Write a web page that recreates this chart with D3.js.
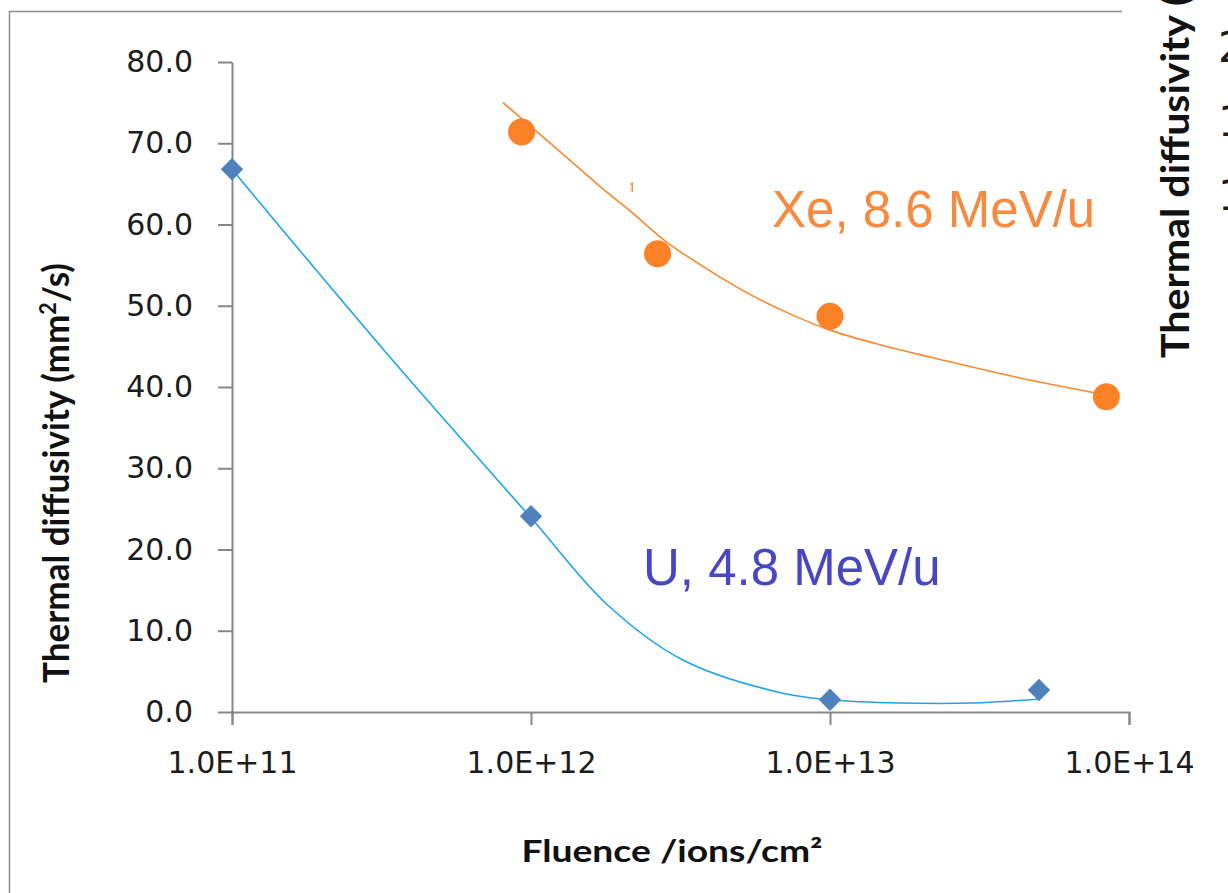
<!DOCTYPE html>
<html>
<head>
<meta charset="utf-8">
<script src="https://cdn.jsdelivr.net/npm/d3@7"></script>
<style>
  html, body { margin: 0; padding: 0; background: #fff; overflow: hidden; }
  svg { display: block; }
</style>
</head>
<body>
<svg id="chart" width="1228" height="893"></svg>
<script>
// Measured points: fluence (ions/cm²) and thermal diffusivity (mm²/s)
const uFluence  = [1e11, 1e12, 1e13, 5e13];
const uValues   = [66.8, 24.1, 1.5, 2.7];
const xeFluence = [9.3e11, 2.65e12, 1.0e13, 8.4e13];
const xeValues  = [71.4, 56.4, 48.7, 38.8];

// Smoothed guide curves drawn through each series
const uCurveFluence  = [1e11, 3.3e11, 1.0e12, 1.8e12, 3.22e12, 6.96e12, 1.0e13, 1.71e13, 3.01e13, 5.0e13];
const uCurveValues   = [66.8, 44.1, 23.9, 13.2, 6.4, 2.3, 1.5, 1.1, 1.1, 1.6];
const xeCurveFluence = [8.06e11, 1.22e12, 1.70e12, 2.14e12, 2.85e12, 3.97e12, 5.4e12, 7.35e12, 1.0e13, 1.47e13, 2.21e13, 4.21e13, 8.44e13];
const xeCurveValues  = [75.0, 69.3, 64.7, 61.7, 57.8, 54.3, 51.4, 49.0, 47.0, 45.2, 43.6, 41.2, 39.0];

// Axis ticks
const xTicks = [1e11, 1e12, 1e13, 1e14];
const yTicks = [0, 10, 20, 30, 40, 50, 60, 70, 80];
const neighbourTicks = ["20.0", "15.0", "10.0"];

const svg = d3.select("#chart");
svg.append("rect").attr("width", 1228).attr("height", 893).attr("fill", "#fff");

// chart frame (left and top edges visible)
svg.append("path")
  .attr("d", "M9.5,893V11.5H1122")
  .attr("fill", "none").attr("stroke", "#8c8c8c").attr("stroke-width", 1.5);

const x = d3.scaleLog().domain([1e11, 1e14]).range([232, 1129]);
const y = d3.scaleLinear().domain([0, 80]).range([712, 62]);

const axisColor = "#878787";
const tickFont = "'DejaVu Sans', Verdana, sans-serif";

// y axis
const gy = svg.append("g").attr("transform", "translate(232,0)")
  .call(d3.axisLeft(y).tickValues(yTicks).tickFormat(d => d.toFixed(1))
    .tickSize(14).tickSizeOuter(0).tickPadding(25));
// x axis
const gx = svg.append("g").attr("transform", "translate(0,712)")
  .call(d3.axisBottom(x).tickValues(xTicks)
    .tickFormat(d => "1.0E+" + Math.round(Math.log10(d)))
    .tickSize(13).tickSizeOuter(13).tickPadding(27));

[gx, gy].forEach(g => {
  g.select(".domain").attr("stroke", axisColor).attr("stroke-width", 2);
  g.selectAll(".tick line").attr("stroke", axisColor).attr("stroke-width", 2);
  g.selectAll(".tick text").attr("fill", "#1c1c1c")
    .style("font-family", tickFont).style("font-size", "30px");
});

// axis titles
const titleFont = "Lato, 'Open Sans', sans-serif";
svg.append("text")
  .attr("x", 672).attr("y", 862).attr("text-anchor", "middle")
  .attr("textLength", 301).attr("lengthAdjust", "spacingAndGlyphs")
  .style("font-family", titleFont).style("font-weight", "bold").style("font-size", "30px")
  .attr("fill", "#111")
  .text("Fluence /ions/cm²");

function yTitle(sel, size) {
  sel.style("font-family", titleFont).style("font-weight", "bold").style("font-size", size + "px")
    .attr("fill", "#111");
  sel.append("tspan").text("Thermal diffusivity (mm");
  sel.append("tspan").attr("baseline-shift", "super").style("font-size", Math.round(size * 0.6) + "px").text("2");
  sel.append("tspan").text("/s)");
}
svg.append("text")
  .attr("transform", "translate(69,473) rotate(-90)")
  .attr("text-anchor", "middle")
  .attr("textLength", 420).attr("lengthAdjust", "spacingAndGlyphs")
  .call(yTitle, 36);

// guide curves
const line = d3.line().x(d => x(d[0])).y(d => y(d[1])).curve(d3.curveCatmullRom.alpha(0.5));
svg.append("path")
  .datum(uCurveFluence.map((f, i) => [f, uCurveValues[i]]))
  .attr("d", line).attr("fill", "none").attr("stroke", "#1ea4e8").attr("stroke-width", 1.6);
svg.append("path")
  .datum(xeCurveFluence.map((f, i) => [f, xeCurveValues[i]]))
  .attr("d", line).attr("fill", "none").attr("stroke", "#f7892f").attr("stroke-width", 1.6);

// small stray error-bar stub on the Xe curve
const stubF = 2.18e12, stubV = 64.6;
svg.append("path")
  .attr("d", `M${x(stubF)},${y(stubV) - 5}v10M${x(stubF) - 2},${y(stubV) - 3}h3`)
  .attr("stroke", "#f7892f").attr("stroke-width", 1.4).attr("fill", "none");

// U markers (diamonds)
svg.append("g").selectAll("path")
  .data(uFluence.map((f, i) => [f, uValues[i]]))
  .join("path")
  .attr("d", d3.symbol(d3.symbolDiamond2, 320)())
  .attr("transform", d => `translate(${x(d[0])},${y(d[1])})`)
  .attr("fill", "#4f81bd");

// Xe markers (circles)
svg.append("g").selectAll("circle")
  .data(xeFluence.map((f, i) => [f, xeValues[i]]))
  .join("circle")
  .attr("cx", d => x(d[0])).attr("cy", d => y(d[1])).attr("r", 13.5)
  .attr("fill", "#fd8126");

// series labels
const labelFont = "'Liberation Sans', Arial, sans-serif";
svg.append("text").attr("x", 772).attr("y", 227)
  .style("font-family", labelFont).style("font-size", "51px")
  .attr("fill", "#f68a3e").text("Xe, 8.6 MeV/u");
svg.append("text").attr("x", 643).attr("y", 585)
  .style("font-family", labelFont).style("font-size", "51px")
  .attr("fill", "#4747c6").text("U, 4.8 MeV/u");

// adjoining chart at the right edge
svg.append("text")
  .attr("transform", "translate(1189,358) rotate(-90)")
  .attr("text-anchor", "start")
  .attr("textLength", 492).attr("lengthAdjust", "spacingAndGlyphs")
  .call(yTitle, 39);
svg.append("g").selectAll("text")
  .data(neighbourTicks)
  .join("text")
  .attr("x", 1218).attr("y", (d, i) => 62 + i * 74)
  .style("font-family", tickFont).style("font-size", "42px")
  .attr("fill", "#1c1c1c")
  .text(d => d);
</script>
</body>
</html>
